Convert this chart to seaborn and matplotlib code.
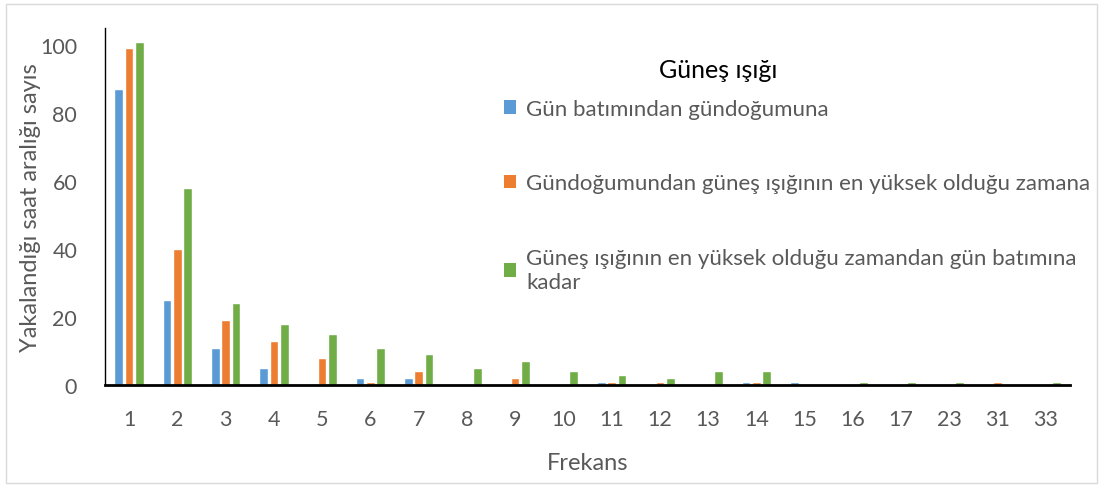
import matplotlib
matplotlib.use("Agg")
import matplotlib.pyplot as plt
import seaborn as sns
import pandas as pd
from matplotlib.patches import Rectangle, Patch

categories = ["1", "2", "3", "4", "5", "6", "7", "8", "9", "10",
              "11", "12", "13", "14", "15", "16", "17", "23", "31", "33"]
series_names = [
    "Gün batımından gündoğumuna",
    "Gündoğumundan güneş ışığının en yüksek olduğu zamana",
    "Güneş ışığının en yüksek olduğu zamandan gün batımına\nkadar",
]
sunset_to_sunrise = [87, 25, 11, 5, 0, 2, 2, 0, 0, 0, 1, 0, 0, 1, 1, 0, 0, 0, 0, 0]
sunrise_to_peak = [99, 40, 19, 13, 8, 1, 4, 0, 2, 0, 1, 1, 0, 1, 0, 0, 0, 0, 1, 0]
peak_to_sunset = [101, 58, 24, 18, 15, 11, 9, 5, 7, 4, 3, 2, 4, 4, 0, 1, 1, 1, 0, 1]
colors = ["#5B9BD5", "#ED7D31", "#70AD47"]

rows = []
for name, vals in zip(series_names, [sunset_to_sunrise, sunrise_to_peak, peak_to_sunset]):
    for c, v in zip(categories, vals):
        rows.append({"Frekans": c, "value": v, "series": name})
df = pd.DataFrame(rows)

sns.set_theme(style="white")
plt.rcParams["font.family"] = ["Lato", "DejaVu Sans"]
text_color = "#595959"

fig = plt.figure(figsize=(11.03, 4.89), dpi=100)
ax = fig.add_axes([105 / 1103, 1 - 386 / 489, (1070 - 105) / 1103, (386 - 29) / 489])

sns.barplot(data=df, x="Frekans", y="value", hue="series", order=categories,
            hue_order=series_names, palette=colors, width=0.64, gap=0.15,
            saturation=1, ax=ax, legend=False)

ax.set_xlim(-0.5, len(categories) - 0.5)
ax.set_ylim(0, 105)
ax.set_yticks([0, 20, 40, 60, 80, 100])
ax.tick_params(axis="both", length=0, labelsize=15.5, colors=text_color)
ax.tick_params(axis="x", pad=17)
ax.tick_params(axis="y", pad=20)
ax.set_xlabel("Frekans", fontsize=17, color=text_color, labelpad=17)
ax.set_ylabel("Yakalandığı saat aralığı sayıs", fontsize=17, color=text_color)
ax.yaxis.set_label_coords(-0.066, 0.5)

for s in ["top", "right"]:
    ax.spines[s].set_visible(False)
ax.spines["left"].set_color("black")
ax.spines["left"].set_linewidth(1.0)
ax.spines["bottom"].set_color("black")
ax.spines["bottom"].set_linewidth(2.0)

handles = [Patch(facecolor=c, edgecolor="none") for c in colors]
leg = fig.legend(handles, series_names, loc="upper left",
                 bbox_to_anchor=(495 / 1103, 1 - 91 / 489), frameon=False,
                 fontsize=16, labelspacing=2.45, handlelength=0.55, handleheight=0.55,
                 handletextpad=0.45, borderaxespad=0)
for t in leg.get_texts():
    t.set_color(text_color)
    t.set_linespacing(1.25)

fig.text(718 / 1103, 1 - 70 / 489, "Güneş ışığı", fontsize=18, color="black",
         ha="center", va="center")

fig.patches.append(Rectangle((6 / 1103, 5 / 489), 1091 / 1103, 479 / 489,
                             transform=fig.transFigure, fill=False,
                             edgecolor="#D9D9D9", linewidth=1.0))

fig.savefig("out.png", dpi=100)
